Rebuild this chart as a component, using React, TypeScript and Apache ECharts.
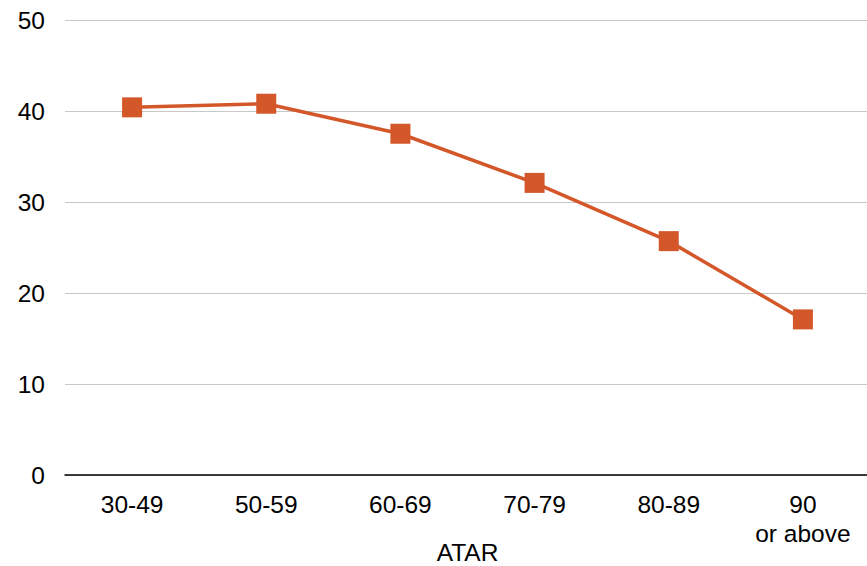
import React, { useEffect, useRef } from "react";
import * as echarts from "echarts";

const categories = ["30-49", "50-59", "60-69", "70-79", "80-89", "90\nor above"];
const values = [40.4, 40.8, 37.5, 32.1, 25.7, 17.1];
const yTicks = { min: 0, max: 50, interval: 10 };

const FONT = "'Liberation Sans', Arial, sans-serif";

export default function App() {
  const ref = useRef<HTMLDivElement>(null);
  useEffect(() => {
    document.body.style.margin = "0";
    const chart = echarts.init(ref.current!, null, { renderer: "svg" });
    chart.setOption({
      animation: false,
      grid: { left: 65, right: -3, top: 20, bottom: 91, outerBoundsMode: "none" },
      xAxis: {
        type: "category",
        data: categories,
        name: "ATAR",
        nameLocation: "middle",
        nameGap: 65,
        nameMoveOverlap: false,
        nameTextStyle: { fontFamily: FONT, fontSize: 24.5, color: "#000" },
        axisLine: { lineStyle: { color: "#000", width: 1.5 } },
        axisTick: { length: 7, lineStyle: { color: "#555" } },
        axisLabel: {
          fontFamily: FONT,
          fontSize: 24.5,
          color: "#000",
          margin: 15,
          lineHeight: 29,
        },
      },
      yAxis: {
        type: "value",
        min: yTicks.min,
        max: yTicks.max,
        interval: yTicks.interval,
        axisLine: { show: false },
        axisTick: { show: false },
        splitLine: { lineStyle: { color: "#c8c8c8", width: 1 } },
        axisLabel: {
          fontFamily: FONT,
          fontSize: 24.5,
          color: "#000",
          margin: 20,
        },
      },
      series: [
        {
          type: "line",
          data: values,
          symbol: "rect",
          symbolSize: 20,
          itemStyle: { color: "#d4572a" },
          lineStyle: { color: "#d4572a", width: 3.5 },
        },
      ],
    });
    return () => chart.dispose();
  }, []);
  return <div ref={ref} style={{ width: 867, height: 566 }} />;
}
